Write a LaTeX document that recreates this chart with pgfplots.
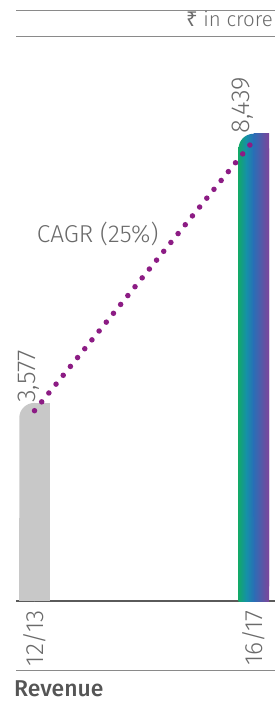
\documentclass[border=0pt]{standalone}
\usepackage{fontspec}
\setmainfont{Fira Sans}[UprightFont={* Light}, BoldFont={* Medium}]
\newfontfamily\rupeefont{Noto Sans}
\usepackage{pgfplots}
\pgfplotsset{compat=1.18}
\definecolor{txt}{HTML}{6A6A6A}
\definecolor{revc}{HTML}{555555}
\definecolor{axisgray}{HTML}{5A5A5A}
\definecolor{linegray}{HTML}{8A8A8A}
\definecolor{barGray}{HTML}{C8C8C8}
\definecolor{dotc}{HTML}{8C1C84}
\definecolor{gA}{HTML}{12A86A}
\definecolor{gT}{HTML}{1590A8}
\definecolor{gB}{HTML}{2A6EB6}
\definecolor{gC}{HTML}{7D449A}
\pgfdeclarehorizontalshading{gradFull}{100bp}{color(0bp)=(gA); color(25bp)=(gA); color(37.5bp)=(gT); color(50bp)=(gB); color(75bp)=(gC); color(100bp)=(gC)}
\pgfdeclarehorizontalshading{gradR}{100bp}{color(0bp)=(gB); color(25bp)=(gB); color(75bp)=(gC); color(100bp)=(gC)}
\pgfdeclarehorizontalshading{gradL}{100bp}{color(0bp)=(gA); color(25bp)=(gA); color(50bp)=(gT); color(75bp)=(gB); color(100bp)=(gB)}
\begin{document}
\begin{tikzpicture}
\begin{axis}[
  at={(16bp,-601bp)}, anchor=south west,
  scale only axis, width=259bp, height=591bp,
  xmin=-0.0844, xmax=1.0967, ymin=0, ymax=10674,
  axis x line*=bottom, axis y line=none,
  x axis line style={color=axisgray, line width=1.3bp, -},
  xtick={0,1}, xticklabels={12/13,16/17}, major tick length=0pt,
  xticklabel style={rotate=90, anchor=east, inner xsep=9bp, inner ysep=0pt,
    font=\fontsize{25}{27}\selectfont, text=txt},
  clip=false,
  every node near coord/.append style={rotate=90, anchor=west, inner sep=0pt, xshift=0bp,
    font=\fontsize{26}{28}\selectfont, text=txt},
]
% bar 12/13
\addplot[ybar, bar width=30.5bp, bar shift=0pt, fill=barGray, draw=none, rounded corners=15bp,
  nodes near coords={3,577}, nodes near coords align={vertical},
  every node near coord/.append style={yshift=6bp}] coordinates {(0,3577)};
\addplot[ybar, bar width=15.5bp, bar shift=7.5bp, fill=barGray, draw=none] coordinates {(0,3577)};
\addplot[ybar, bar width=15.5bp, bar shift=-7.5bp, fill=barGray, draw=none] coordinates {(0,1500)};
% bar 16/17
\addplot[ybar, bar width=30.5bp, bar shift=0pt, draw=none, shade, shading=gradFull, rounded corners=15bp,
  nodes near coords={8,439}, nodes near coords align={vertical},
  every node near coord/.append style={yshift=11bp}] coordinates {(1,8439)};
\addplot[ybar, bar width=15.5bp, bar shift=7.5bp, draw=none, shade, shading=gradR] coordinates {(1,8439)};
\addplot[ybar, bar width=15.5bp, bar shift=-7.5bp, draw=none, shade, shading=gradL] coordinates {(1,1500)};
% CAGR dotted line
\addplot[color=dotc, line width=5.5bp, line cap=round, dash pattern=on 0bp off 11.4bp, no markers]
  coordinates {(0,3437) (1.013,8386)};
\node[anchor=west, inner sep=0pt, font=\fontsize{24.5}{26}\selectfont, text=txt] at (axis cs:0.01,6628) {CAGR (25\%)};
\end{axis}
\draw[color=linegray, line width=1bp] (16bp,-10bp) -- (275bp,-10bp);
\draw[color=linegray, line width=1bp] (16bp,-36bp) -- (275bp,-36bp);
\draw[color=linegray, line width=1bp] (16bp,-670bp) -- (275bp,-670bp);
\node[anchor=base east, inner sep=0pt, font=\fontsize{20.5}{22}\selectfont, text=txt] at (273bp,-26bp) {{\rupeefont ₹} in crore};
\node[anchor=base west, inner sep=0pt, font=\bfseries\fontsize{23}{26}\selectfont, text=revc] at (14bp,-696bp) {Revenue};
\pgfresetboundingbox
\path[use as bounding box] (0,0) rectangle (275bp,-702bp);
\end{tikzpicture}
\end{document}
